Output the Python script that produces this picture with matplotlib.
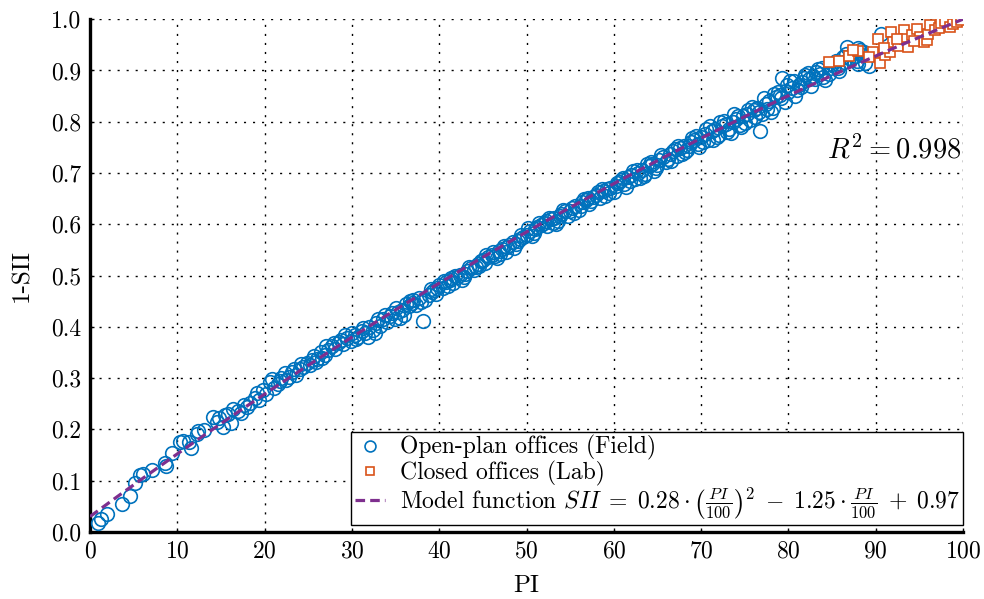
import numpy as np
import matplotlib
matplotlib.use("Agg")
import matplotlib.pyplot as plt

# ---- data ----
field_pi = [
    0.9, 1.3, 2.0, 3.7, 4.6, 5.2, 5.7, 6.1, 7.1, 8.6, 8.7, 9.4, 10.3, 10.6, 11.3, 11.6,
    12.4, 12.2, 13.0, 14.1, 14.8, 15.2, 15.8, 16.1, 16.4, 17.0, 17.6, 18.0, 18.3, 18.9,
    19.4, 19.8, 20.2, 20.6, 21.1, 21.5, 21.8, 21.9, 22.3, 22.8, 23.1, 23.4, 23.6, 24.0,
    24.4, 24.8, 25.2, 25.6, 25.9, 26.0, 26.4, 26.9, 27.0, 27.3, 27.7, 28.1, 28.5, 28.8,
    29.0, 29.4, 29.9, 30.0, 30.3, 30.7, 31.1, 31.5, 31.8, 32.0, 32.4, 32.8, 33.0, 33.2,
    33.6, 34.0, 34.4, 34.6, 34.9, 35.0, 35.3, 35.7, 36.0, 36.2, 36.5, 36.9, 37.0, 37.3,
    37.7, 38.1, 38.4, 38.8, 39.0, 39.2, 39.6, 39.8, 40.0, 40.4, 40.8, 41.0, 41.2, 41.6,
    41.8, 42.0, 42.4, 42.8, 43.0, 43.2, 43.6, 44.0, 44.2, 44.4, 44.8, 45.0, 45.2, 45.6,
    46.0, 46.2, 46.4, 46.8, 47.0, 47.2, 47.6, 47.8, 48.0, 48.4, 48.8, 49.0, 49.2, 49.6,
    50.0, 50.2, 50.4, 50.8, 51.0, 51.2, 51.6, 52.0, 52.2, 52.4, 52.8, 53.0, 53.2, 53.6,
    53.8, 54.0, 54.4, 54.8, 55.0, 55.2, 55.6, 56.0, 56.2, 56.4, 56.8, 57.0, 57.2, 57.6,
    58.0, 58.2, 58.4, 58.8, 59.0, 59.2, 59.6, 60.0, 60.2, 60.4, 60.8, 61.0, 61.2, 61.6,
    61.8, 62.0, 62.4, 62.6, 62.8, 63.2, 63.4, 63.6, 64.0, 64.2, 64.4, 64.8, 65.0, 65.2,
    65.6, 66.0, 66.2, 66.4, 66.8, 67.0, 67.2, 67.6, 67.8, 68.0, 68.4, 68.6, 68.8, 69.2,
    69.4, 69.6, 70.0, 70.2, 70.4, 70.8, 71.0, 71.2, 71.6, 71.8, 72.0, 72.4, 72.6, 72.8,
    73.2, 73.4, 73.6, 74.0, 74.2, 74.4, 74.8, 75.0, 75.2, 75.6, 75.8, 76.0, 76.2, 76.4,
    76.7, 77.0, 77.2, 77.4, 77.8, 78.0, 78.2, 78.6, 78.8, 79.0, 79.3, 79.6, 79.8, 80.0,
    80.4, 80.6, 80.8, 81.2, 81.4, 81.6, 81.9, 82.2, 82.4, 82.8, 83.0, 83.2, 83.6, 83.8,
    84.2, 84.6, 84.8, 85.2, 85.4, 85.7, 86.0, 86.2, 86.4, 86.7, 86.9, 87.2, 87.4, 87.6,
    88.0, 88.0, 88.4, 88.6, 88.8, 89.2, 90.6,
    # second pass, denser band
    14.5, 15.5, 17.3, 19.1, 20.9, 22.5, 24.2, 25.4, 26.6, 27.9, 29.2, 30.5, 31.3, 32.6,
    33.8, 35.5, 36.7, 37.9, 39.4, 40.6, 41.4, 42.6, 43.4, 44.6, 45.4, 46.6, 47.4, 48.6,
    49.4, 50.6, 51.4, 52.6, 53.4, 54.2, 55.4, 56.6, 57.4, 58.6, 59.4, 60.6, 61.4, 62.2,
    63.0, 63.8, 64.6, 65.4, 66.6, 67.4, 68.2, 69.0, 69.8, 70.6, 71.4, 72.2, 73.0, 73.8,
    74.6, 75.4, 76.6, 77.6, 78.4, 79.2, 80.2, 81.0, 81.8, 82.6, 83.4, 84.0, 85.0, 85.8,
    86.6, 87.8, 88.2,
]
field_val = [
    0.017, 0.025, 0.034, 0.054, 0.071, 0.095, 0.111, 0.112, 0.121, 0.134, 0.128, 0.154, 0.176, 0.178, 0.176, 0.164,
    0.196, 0.190, 0.198, 0.224, 0.222, 0.205, 0.230, 0.212, 0.240, 0.236, 0.248, 0.244, 0.252, 0.262,
    0.258, 0.276, 0.268, 0.292, 0.280, 0.289, 0.294, 0.300, 0.310, 0.303, 0.312, 0.318, 0.306, 0.318,
    0.322, 0.330, 0.325, 0.343, 0.331, 0.338, 0.350, 0.346, 0.362, 0.355, 0.362, 0.357, 0.370, 0.374,
    0.366, 0.378, 0.372, 0.388, 0.385, 0.380, 0.392, 0.388, 0.381, 0.399, 0.393, 0.408, 0.415, 0.402,
    0.416, 0.410, 0.421, 0.426, 0.415, 0.436, 0.428, 0.432, 0.423, 0.445, 0.440, 0.447, 0.452, 0.443,
    0.456, 0.412, 0.452, 0.462, 0.474, 0.468, 0.464, 0.476, 0.481, 0.476, 0.487, 0.480, 0.491, 0.486,
    0.500, 0.497, 0.502, 0.498, 0.503, 0.509, 0.514, 0.510, 0.516, 0.522, 0.528, 0.531, 0.524, 0.536,
    0.541, 0.546, 0.538, 0.548, 0.542, 0.552, 0.546, 0.556, 0.560, 0.565, 0.561, 0.567, 0.572, 0.576,
    0.580, 0.592, 0.587, 0.583, 0.590, 0.595, 0.598, 0.602, 0.606, 0.597, 0.610, 0.603, 0.612, 0.606,
    0.616, 0.620, 0.625, 0.617, 0.626, 0.632, 0.636, 0.628, 0.635, 0.643, 0.648, 0.652, 0.640, 0.654,
    0.658, 0.662, 0.651, 0.664, 0.655, 0.668, 0.671, 0.662, 0.674, 0.680, 0.686, 0.690, 0.678, 0.692,
    0.684, 0.696, 0.688, 0.706, 0.700, 0.706, 0.694, 0.698, 0.713, 0.722, 0.718, 0.709, 0.716, 0.726,
    0.731, 0.722, 0.728, 0.737, 0.742, 0.747, 0.734, 0.748, 0.738, 0.753, 0.744, 0.752, 0.760, 0.765,
    0.772, 0.756, 0.770, 0.760, 0.776, 0.764, 0.792, 0.782, 0.786, 0.770, 0.775, 0.791, 0.802, 0.796,
    0.785, 0.778, 0.800, 0.806, 0.812, 0.794, 0.812, 0.798, 0.816, 0.803, 0.828, 0.822, 0.810, 0.827,
    0.782, 0.815, 0.846, 0.834, 0.840, 0.818, 0.826, 0.848, 0.858, 0.852, 0.886, 0.838, 0.872, 0.858,
    0.866, 0.880, 0.850, 0.872, 0.868, 0.877, 0.891, 0.895, 0.884, 0.889, 0.884, 0.897, 0.893, 0.905,
    0.881, 0.894, 0.904, 0.908, 0.918, 0.905, 0.912, 0.926, 0.917, 0.946, 0.925, 0.922, 0.934, 0.928,
    0.943, 0.912, 0.930, 0.936, 0.914, 0.908, 0.972,
    0.215, 0.228, 0.232, 0.271, 0.298, 0.296, 0.328, 0.336, 0.340, 0.368, 0.384, 0.376, 0.398, 0.388,
    0.424, 0.418, 0.450, 0.448, 0.472, 0.490, 0.495, 0.491, 0.516, 0.519, 0.540, 0.535, 0.558, 0.554,
    0.579, 0.578, 0.603, 0.613, 0.600, 0.628, 0.622, 0.650, 0.645, 0.668, 0.661, 0.683, 0.672, 0.703,
    0.691, 0.717, 0.704, 0.735, 0.723, 0.752, 0.740, 0.768, 0.750, 0.785, 0.765, 0.799, 0.780, 0.815,
    0.790, 0.822, 0.818, 0.824, 0.855, 0.846, 0.880, 0.862, 0.885, 0.870, 0.902, 0.888, 0.912, 0.898,
    0.932, 0.918, 0.939,
]

lab_pi = [
    84.6, 85.8, 86.9, 88.0, 89.7, 90.3, 90.5, 91.1, 91.6, 91.7, 92.0, 92.6, 93.2, 93.4,
    93.7, 94.2, 94.7, 95.1, 95.5, 95.9, 96.0, 96.2, 96.8, 97.2, 97.5, 97.9, 98.5, 98.9,
    99.3, 99.8, 90.9, 92.4, 94.4, 87.4, 89.2,
]
lab_val = [
    0.917, 0.919, 0.928, 0.938, 0.936, 0.962, 0.914, 0.930, 0.935, 0.974, 0.956, 0.948, 0.979, 0.961,
    0.946, 0.970, 0.980, 0.966, 0.955, 0.960, 0.972, 0.988, 0.978, 0.982, 0.992, 0.997, 0.985, 0.990,
    0.995, 0.998, 0.944, 0.962, 0.957, 0.940, 0.926,
]

# model SII = a*(PI/100)^2 + b*(PI/100) + c, plotted as 1-SII
model_coef = [0.28, -1.25, 0.97]
r_squared = 0.998

x_ticks = list(range(0, 101, 10))
y_ticks = [0.0, 0.1, 0.2, 0.3, 0.4, 0.5, 0.6, 0.7, 0.8, 0.9, 1.0]

blue = "#0072BD"
orange = "#D95319"
purple = "#7E2F8E"

plt.rcParams["font.family"] = "serif"
plt.rcParams["font.serif"] = ["cmr10", "DejaVu Serif"]
plt.rcParams["mathtext.fontset"] = "cm"
plt.rcParams["axes.unicode_minus"] = False
plt.rcParams["axes.formatter.use_mathtext"] = True

fig, ax = plt.subplots(figsize=(9.84, 5.99), dpi=100)
fig.subplots_adjust(left=0.0915, right=0.9787, bottom=0.112, top=0.968)

ax.plot(field_pi, field_val, "o", ms=9.8, mfc="none", mec=blue, mew=1.2,
        label="Open-plan offices (Field)", zorder=3)
ax.plot(lab_pi, lab_val, "s", ms=7.8, mfc="white", mec=orange, mew=1.2,
        label="Closed offices (Lab)", zorder=4)

pi_grid = np.linspace(0, 100, 200)
ax.plot(pi_grid, 1 - np.polyval(model_coef, pi_grid / 100), color=purple, lw=2.3,
        linestyle=(0, (3.0, 1.6)), zorder=5,
        label=r"Model function $SII\;=\;0.28\cdot\left(\frac{PI}{100}\right)^2\;-\;1.25\cdot\frac{PI}{100}\;+\;0.97$")

ax.text(99.8, 0.745, r"$R^2 = %.3f$" % r_squared, ha="right", va="center", fontsize=20.5)

ax.set_xlim(0, 100)
ax.set_ylim(0, 1)
ax.set_xticks(x_ticks)
ax.set_yticks(y_ticks)
ax.set_yticklabels(["%.1f" % t for t in y_ticks])
ax.tick_params(direction="in", length=3, width=1, labelsize=17, pad=6)
ax.grid(True, color="black", linestyle=(0, (1.5, 5)), linewidth=1)

for side in ["top", "right"]:
    ax.spines[side].set_visible(False)
for side in ["left", "bottom"]:
    ax.spines[side].set_linewidth(2.4)

ax.set_xlabel("PI", fontsize=18, labelpad=9)
ax.set_ylabel("1-SII", fontsize=18, labelpad=13)

leg = ax.legend(loc="lower right", bbox_to_anchor=(1.0, 0.013), fontsize=17,
                fancybox=False, framealpha=1, edgecolor="black", borderaxespad=0,
                handlelength=1.3, handletextpad=0.6, borderpad=0.15, labelspacing=0.0,
                markerscale=0.8)
leg.get_frame().set_linewidth(1.0)

fig.savefig("out.png", dpi=100)
